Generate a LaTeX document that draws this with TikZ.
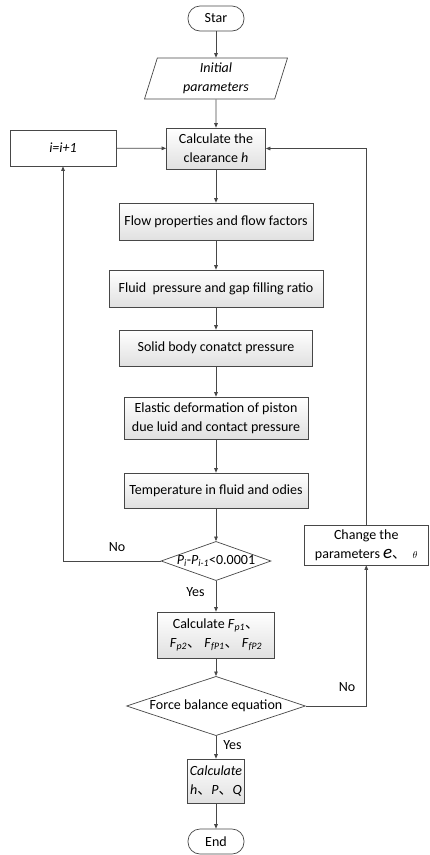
\documentclass[tikz,border=0pt]{standalone}
\usepackage{fontspec}
\setmainfont{Carlito}
\newfontfamily\cjk{Noto Sans CJK SC}
\usepackage{tikz}
\usetikzlibrary{ shapes.geometric }
\usetikzlibrary{arrows.meta}
\usetikzlibrary{calc}

\newcommand{\dun}{{\cjk 、}}
\newcommand{\lowit}[1]{\textsubscript{\textit{#1}}}

\tikzset{
    line/.style={draw=black!72, line width=0.7pt, -{Triangle[length=4.5pt,width=3.6pt]}},
    plain/.style={draw=black!72, line width=0.7pt},
    terminal/.style={draw=black!72, line width=0.7pt, rounded corners=12pt, inner sep=0pt, fill=white},
    procbox/.style={draw=black!72, line width=0.7pt, inner sep=0pt, align=center,
        top color=white, bottom color=black!12},
    whitebox/.style={draw=black!72, line width=0.7pt, inner sep=0pt, align=center, fill=white},
    decide/.style={draw=black!72, line width=0.7pt, diamond, aspect=2.8, inner sep=0pt, fill=white},
    lbl/.style={inner sep=1pt}
}

\begin{document}
\begin{tikzpicture}[x=1pt, y=-1pt, font=\fontsize{14}{19}\selectfont]
    \useasboundingbox (0,0) rectangle (429,855);

    \node[terminal, minimum width=56pt, minimum height=25pt] (start) at (216,18.5) {Star};
    \node[plain, trapezium, trapezium left angle=67.5, trapezium right angle=112.5,
        trapezium stretches body, minimum width=143pt, minimum height=41pt, inner sep=0pt,
        align=center, fill=white] (init) at (216,78.5) {\textit{Initial}\\\textit{parameters}};
    \node[procbox, minimum width=99pt, minimum height=41pt] (calc) at (216,148.5)
        {Calculate the\\clearance \textit{h}};
    \node[whitebox, minimum width=106pt, minimum height=36pt] (inc) at (63,148) {\textit{i=i+1}};
    \node[procbox, minimum width=194pt, minimum height=37pt] (flow) at (216,221.5)
        {Flow properties and flow factors};
    \node[procbox, minimum width=214pt, minimum height=37pt] (fluid) at (216,288.5)
        {Fluid\ \ pressure and gap filling ratio};
    \node[procbox, minimum width=193pt, minimum height=36pt] (solid) at (216,348)
        {Solid body conatct pressure};
    \node[procbox, minimum width=184pt, minimum height=42pt] (elastic) at (216,418)
        {Elastic deformation of piston\\due luid and contact pressure};
    \node[procbox, minimum width=184pt, minimum height=35pt] (temp) at (216,490.5)
        {Temperature in fluid and odies};
    \node[decide, minimum width=110pt, minimum height=36pt] (check) at (216,561)
        {\textit{P}\lowit{i}-\textit{P}\lowit{i-1}<0.0001};
    \node[whitebox, minimum width=124.5pt, minimum height=40pt] (change) at (366.25,545)
        {Change the\\parameters {\fontsize{19}{19}\selectfont\textit{e}}\dun\ \ {\fontsize{10}{10}\selectfont$\theta$}};
    \node[procbox, minimum width=117pt, minimum height=46pt] (forces) at (216,635)
        {Calculate \textit{F}\lowit{p1}\dun\\\textit{F}\lowit{p2}\dun\ \textit{F}\lowit{fP1}\dun\ \textit{F}\lowit{fP2}};
    \node[decide, minimum width=179pt, minimum height=47pt] (balance) at (216,706)
        {Force balance equation};
    \node[procbox, minimum width=57pt, minimum height=44pt] (result) at (216,781)
        {\textit{Calculate}\\\textit{h}\dun\textit{P}\dun\textit{Q}};
    \node[terminal, minimum width=56pt, minimum height=25pt] (finish) at (216,841.5) {End};

    % main chain
    \draw[line] (start) -- (init);
    \draw[line] (init) -- (calc);
    \draw[line] (inc) -- (calc);
    \draw[line] (calc) -- (flow);
    \draw[line] (flow) -- (fluid);
    \draw[line] (fluid) -- (solid);
    \draw[line] (solid) -- (elastic);
    \draw[line] (elastic) -- (temp);
    \draw[line] (temp) -- (check);
    \draw[line] (check) -- node[lbl, pos=0.35, left=10pt] (yesa) {Yes} (forces);
    \draw[line] (forces) -- (balance);
    \draw[line] (balance) -- node[lbl, pos=0.4, right=6pt] (yesb) {Yes} (result);
    \draw[line] (result) -- (finish);

    % loops
    \draw[line] (check.west) -| (inc.south);
    \node[lbl] (noa) at (117,547) {No};
    \draw[line] (balance.east) -| (change.south);
    \node[lbl] (nob) at (347,687) {No};
    \draw[line] (change.north) |- (calc.east);
\end{tikzpicture}
\end{document}
